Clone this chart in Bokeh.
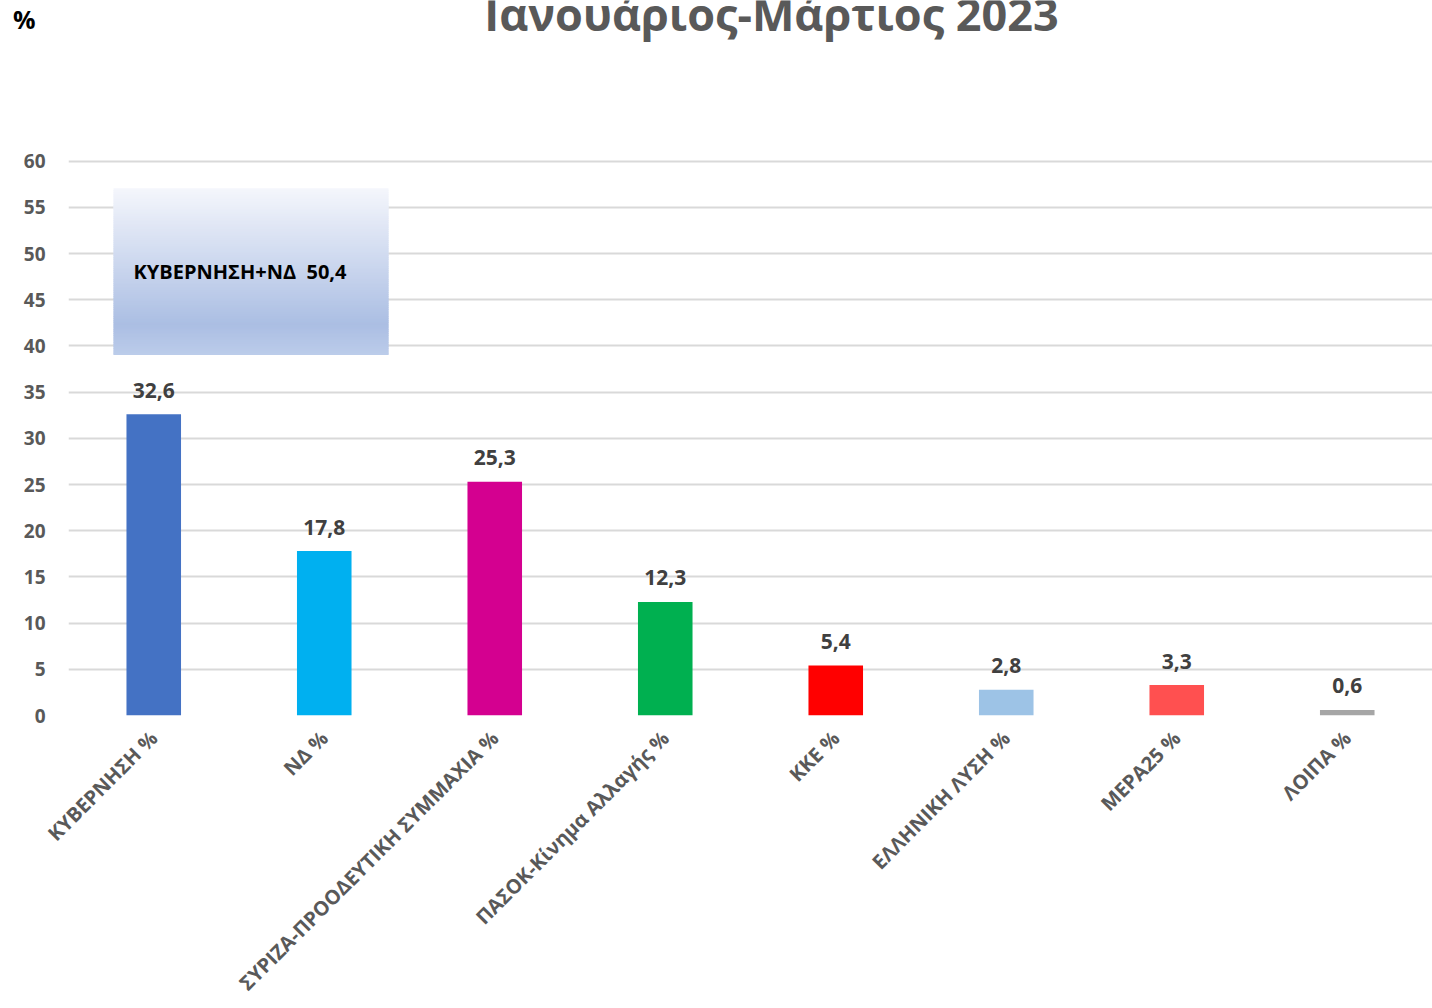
import numpy as np
from bokeh.plotting import figure
from bokeh.models import (ColumnDataSource, FactorRange, Range1d, FixedTicker, LinearAxis)
from bokeh.core.properties import value
from bokeh.embed import file_html
from bokeh.resources import INLINE

# ---- data ----
categories = ["ΚΥΒΕΡΝΗΣΗ %", "ΝΔ %", "ΣΥΡΙΖΑ-ΠΡΟΟΔΕΥΤΙΚΗ ΣΥΜΜΑΧΙΑ %", "ΠΑΣΟΚ-Κίνημα Αλλαγής %",
              "ΚΚΕ %", "ΕΛΛΗΝΙΚΗ ΛΥΣΗ %", "ΜΕΡΑ25 %", "ΛΟΙΠΑ %"]
values = [32.6, 17.8, 25.3, 12.3, 5.4, 2.8, 3.3, 0.6]
colors = ["#4472c4", "#00b0f0", "#d40090", "#00b050", "#ff0000", "#9dc3e6", "#ff5050", "#a6a6a6"]
y_ticks = [0, 5, 10, 15, 20, 25, 30, 35, 40, 45, 50, 55, 60]
title_text = "Ιανουάριος-Μάρτιος 2023"
unit_text = "%"
box_text = "ΚΥΒΕΡΝΗΣΗ+ΝΔ\u00a0 50,4"

labels = [f"{v:.1f}".replace(".", ",") for v in values]

FONT = "Open Sans"
GREY = "#595959"

# layout constants (value-axis extends above 60 to leave room for the title)
Y_TOP = 77.4
TITLE_X, TITLE_Y = 4.123, 75.95
UNIT_Y = 75.37

p = figure(x_range=FactorRange(*categories), y_range=Range1d(0, Y_TOP),
           width=1432, height=1008, output_backend="svg", toolbar_location=None,
           min_border_left=68, min_border_right=0, min_border_top=0, min_border_bottom=292)
p.outline_line_color = None
p.background_fill_color = "white"

# grid
p.xgrid.grid_line_color = None
p.ygrid.ticker = FixedTicker(ticks=y_ticks)
p.ygrid.grid_line_color = "#d9d9d9"
p.ygrid.grid_line_width = 2

# axes
p.yaxis.ticker = FixedTicker(ticks=y_ticks)
for ax in (p.xaxis, p.yaxis):
    ax.axis_line_color = None
    ax.major_tick_line_color = None
    ax.minor_tick_line_color = None
    ax.major_tick_out = 0
    ax.major_tick_in = 0
    ax.minor_tick_out = 0
    ax.major_label_text_font = FONT
    ax.major_label_text_font_style = "bold"
    ax.major_label_text_color = GREY
p.yaxis.major_label_text_font_size = "19px"
p.yaxis.major_label_standoff = 23
p.xaxis.major_label_text_font_size = "20px"
p.xaxis.major_label_orientation = np.pi / 4
p.xaxis.major_label_standoff = 19

# unit label "%" as an extra left axis with one tick
unit_axis = LinearAxis(ticker=FixedTicker(ticks=[UNIT_Y]),
                       major_label_overrides={UNIT_Y: unit_text},
                       axis_line_color=None, major_tick_line_color=None,
                       minor_tick_line_color=None, major_tick_out=0, major_tick_in=0,
                       minor_tick_out=0, major_label_standoff=-15,
                       major_label_text_font=FONT, major_label_text_font_style="bold",
                       major_label_text_font_size="25px", major_label_text_color="black")
p.add_layout(unit_axis, "left")

# gradient box (annotation) built from overlapping horizontal strips
box_left, box_right, box_bottom, box_top = 0.264, 1.877, 39.03, 57.08
n = 90
edges = np.linspace(box_top, box_bottom, n + 1)
stops_t = [0.0, 0.82, 1.0]
stops_c = [(0xf4, 0xf6, 0xfc), (0xab, 0xbe, 0xe3), (0xbc, 0xcc, 0xea)]
cols = []
for i in range(n):
    t = (i + 0.5) / n
    rgb = [int(round(np.interp(t, stops_t, [c[k] for c in stops_c]))) for k in range(3)]
    cols.append("#%02x%02x%02x" % tuple(rgb))
bottoms = np.maximum(edges[1:] - 0.15, box_bottom)
strip_src = ColumnDataSource(dict(top=edges[:-1], bottom=bottoms,
                                  left=[box_left] * n, right=[box_right] * n, color=cols))
p.quad(left="left", right="right", top="top", bottom="bottom", fill_color="color",
       line_color=None, source=strip_src)
p.text(x=[box_left], y=[(box_top + box_bottom) / 2], text=[box_text], x_offset=20,
       text_font=value(FONT), text_font_style="bold", text_font_size="20px",
       text_color="black", text_align="left", text_baseline="middle")

# bars
src = ColumnDataSource(dict(x=categories, top=values, color=colors, label=labels))
p.vbar(x="x", top="top", width=0.32, fill_color="color", line_color=None, source=src)
p.text(x="x", y="top", text="label", source=src, y_offset=-24,
       text_font=value(FONT), text_font_style="bold", text_font_size="21px",
       text_color="#404040", text_align="center", text_baseline="alphabetic")

# title (partly cut off at the top edge)
p.text(x=[TITLE_X], y=[TITLE_Y], text=[title_text],
       text_font=value(FONT), text_font_style="bold", text_font_size="45px",
       text_color=GREY, text_align="center", text_baseline="alphabetic")

open("out.html", "w").write(file_html(p, INLINE))
